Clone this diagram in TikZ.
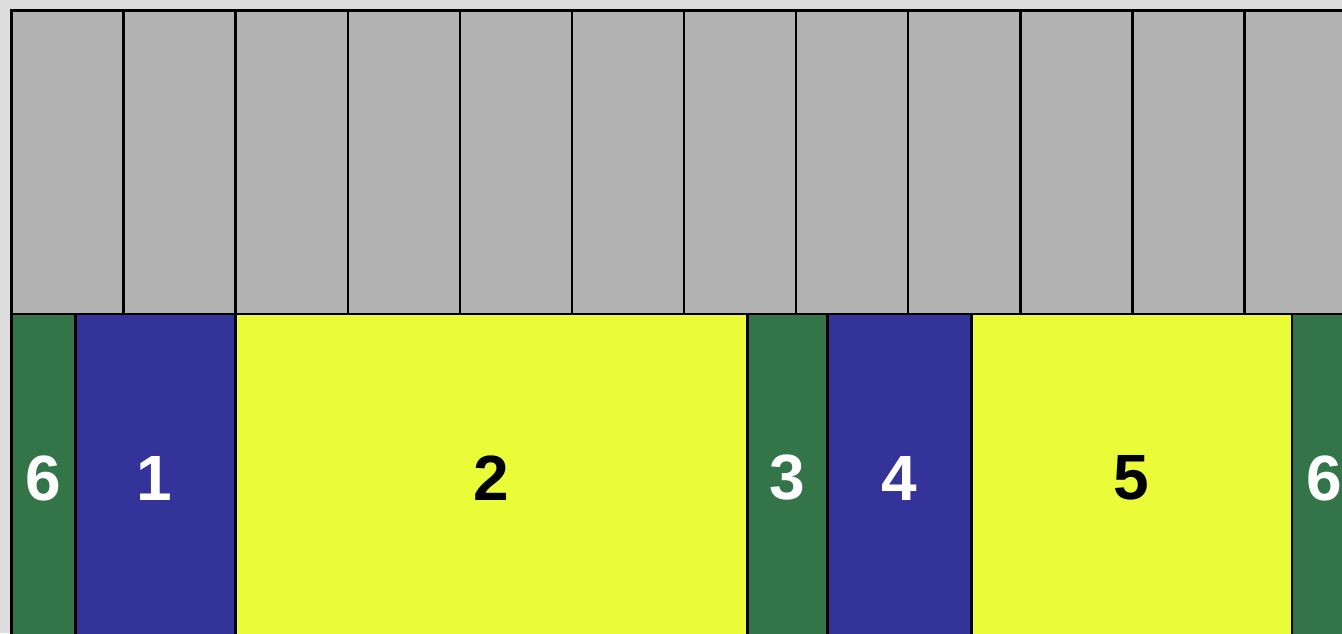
\documentclass[tikz,border=0pt]{standalone}
\usepackage{fontspec}
\setmainfont{Liberation Sans}
\definecolor{bgc}{HTML}{DDDDDD}
\definecolor{cellgray}{HTML}{B3B3B3}
\definecolor{cgreen}{HTML}{337548}
\definecolor{cblue}{HTML}{333399}
\definecolor{cyellow}{HTML}{EAFC38}
\tikzset{
  cell/.style={draw=black, line width=2.5pt},
  lbl/.style={font=\fontsize{64}{64}\selectfont\bfseries, inner sep=0pt, anchor=center},
}
\begin{document}
\begin{tikzpicture}[x=1pt,y=-1pt]
\useasboundingbox (0,0) rectangle (1342,633);
\clip (0,0) rectangle (1342,633);
\fill[bgc] (0,0) rectangle (1342,633);
% top grey cells
\foreach \i in {0,...,11} {
  \pgfmathsetmacro{\xa}{11.5+112.09*\i}
  \pgfmathsetmacro{\xb}{11.5+112.09*(\i+1)}
  \filldraw[cell, fill=cellgray] (\xa,10.5) rectangle (\xb,314);
}
% bottom cells
\filldraw[cell, fill=cgreen] (11.5,314) rectangle (75.5,660);
\filldraw[cell, fill=cblue] (75.5,314) rectangle (235.5,660);
\filldraw[cell, fill=cyellow] (235.5,314) rectangle (747.7,660);
\filldraw[cell, fill=cgreen] (747.7,314) rectangle (827.7,660);
\filldraw[cell, fill=cblue] (827.7,314) rectangle (971.7,660);
\filldraw[cell, fill=cyellow] (971.7,314) rectangle (1292,660);
\filldraw[cell, fill=cgreen] (1292,314) rectangle (1356,660);
% labels
\node[lbl, text=white] (l6a) at (43,478) {6};
\node[lbl, text=white] (l1) at (154,478) {1};
\node[lbl, text=black] (l2) at (491.5,478) {2};
\node[lbl, text=white] (l3) at (787.5,478) {3};
\node[lbl, text=white] (l4) at (899.5,478) {4};
\node[lbl, text=black] (l5) at (1131.5,478) {5};
\node[lbl, text=white] (l6b) at (1324,478) {6};
\end{tikzpicture}
\end{document}
